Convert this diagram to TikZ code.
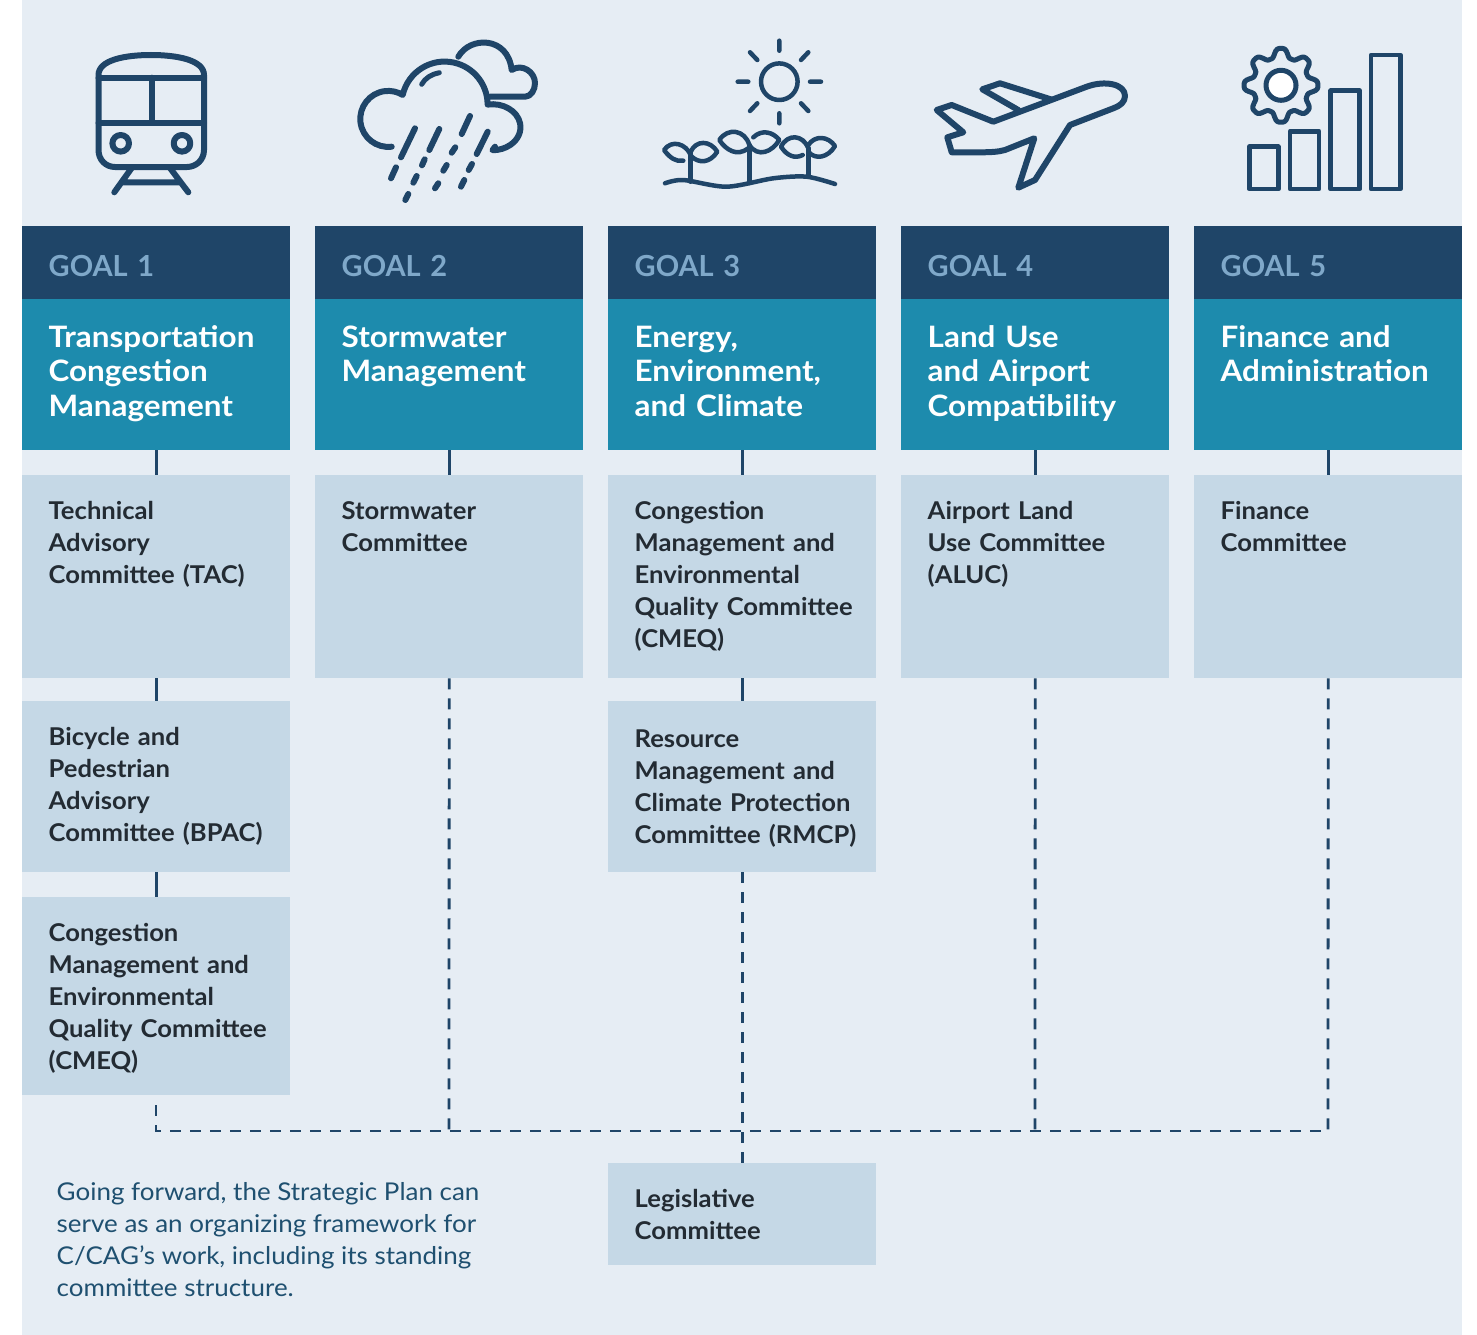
\documentclass[tikz,border=0pt]{standalone}
\usepackage{fontspec}
\setmainfont{Lato}
\newfontfamily\titlefont[FakeStretch=1.065]{Lato}
\newfontfamily\panelfont[FakeStretch=1.045]{Lato}
\newfontfamily\notefont[FakeStretch=1.06]{Lato}

\definecolor{pagebg}{HTML}{E6EDF4}
\definecolor{navy}{HTML}{1F4568}
\definecolor{teal}{HTML}{1D8BAD}
\definecolor{pale}{HTML}{C5D8E6}
\definecolor{goaltext}{HTML}{7FA8C9}
\definecolor{inktext}{HTML}{232B33}
\definecolor{notetext}{HTML}{1F5070}

\tikzset{
  boxbase/.style={anchor=north west, inner xsep=0pt, inner ysep=0pt, text width=268pt, align=left, execute at begin node={\leftskip=26.5pt}},
  goalbox/.style={boxbase, fill=navy, text=goaltext, text height=50pt, text depth=23pt, font=\fontsize{29}{34}\selectfont\bfseries},
  titlebox/.style={boxbase, fill=teal, text=white, text height=48pt, text depth=103pt, font=\titlefont\fontsize{29.5}{34.5}\selectfont\bfseries},
  panel/.style={boxbase, fill=pale, text=inktext, text height=44pt, text depth=#1pt-44pt, font=\panelfont\fontsize{24.5}{32}\selectfont\bfseries},
  link/.style={navy, line width=2.8pt},
  dashlink/.style={navy, line width=2.8pt, dash pattern=on 11pt off 9pt},
  icon/.style={navy, line width=6pt, line cap=round, line join=round},
  thinicon/.style={navy, line width=4.5pt, line cap=round, line join=round}
}

\begin{document}
\begin{tikzpicture}[x=1pt,y=1pt]

\useasboundingbox (0,0) rectangle (1477,-1335);
\fill[pagebg] (22,0) rectangle (1462,-1335);

% goal headers
\node[goalbox] (goalA) at (22,-226) {GOAL 1};
\node[goalbox] (goalB) at (315,-226) {GOAL 2};
\node[goalbox] (goalC) at (608,-226) {GOAL 3};
\node[goalbox] (goalD) at (901,-226) {GOAL 4};
\node[goalbox] (goalE) at (1194,-226) {GOAL 5};

\node[titlebox] (titleA) at (22,-299) {Transportation\\Congestion\\Management};
\node[titlebox] (titleB) at (315,-299) {Stormwater\\Management};
\node[titlebox] (titleC) at (608,-299) {Energy,\\Environment,\\and Climate};
\node[titlebox] (titleD) at (901,-299) {Land Use\\and Airport\\Compatibility};
\node[titlebox] (titleE) at (1194,-299) {Finance and\\Administration};

% committees
\node[panel=203] (tac) at (22,-475) {Technical\\Advisory\\Committee (TAC)};
\node[panel=171] (bpac) at (22,-701) {Bicycle and\\Pedestrian\\Advisory\\Committee (BPAC)};
\node[panel=198] (cmeqA) at (22,-897) {Congestion\\Management and\\Environmental\\Quality Committee\\(CMEQ)};
\node[panel=203] (storm) at (315,-475) {Stormwater\\Committee};
\node[panel=203] (cmeqC) at (608,-475) {Congestion\\Management and\\Environmental\\Quality Committee\\(CMEQ)};
\node[panel=171, text height=46pt, text depth=125pt] (rmcp) at (608,-701) {Resource\\Management and\\Climate Protection\\Committee (RMCP)};
\node[panel=102] (legis) at (608,-1163) {Legislative\\Committee};
\node[panel=203] (aluc) at (901,-475) {Airport Land\\Use Committee\\(ALUC)};
\node[panel=203] (fin) at (1194,-475) {Finance\\Committee};

\draw[link] (titleA.south) -- (tac.north);
\draw[link] (tac.south) -- (bpac.north);
\draw[link] (bpac.south) -- (cmeqA.north);
\draw[link] (titleB.south) -- (storm.north);
\draw[link] (titleC.south) -- (cmeqC.north);
\draw[link] (cmeqC.south) -- (rmcp.north);
\draw[link] (titleD.south) -- (aluc.north);
\draw[link] (titleE.south) -- (fin.north);

% dashed bus
\coordinate (busA) at (156,-1131);
\coordinate (busB) at (449,-1131);
\coordinate (busD) at (1035,-1131);
\coordinate (busE) at (1328,-1131);
\coordinate (stubA) at (156,-1105);

\draw[dashlink] (stubA) -- (busA) -- (busE);
\draw[dashlink] (storm.south) -- (busB);
\draw[dashlink] (rmcp.south) -- (legis.north);
\draw[dashlink] (aluc.south) -- (busD);
\draw[dashlink] (fin.south) -- (busE);

\node[anchor=base west, inner sep=0pt, align=left, text=notetext, font=\notefont\fontsize{24.5}{32}\selectfont] (note) at (56.5,-1296) {Going forward, the Strategic Plan can\\serve as an organizing framework for\\C/CAG’s work, including its standing\\committee structure.};

% train
\draw[icon] (98.5,-75) .. controls (98.5,-60) and (125,-55) .. (151,-55) .. controls (177,-55) and (204,-60) .. (204,-75) -- (204,-150) .. controls (204,-160) and (196,-167) .. (187,-167) -- (115,-167) .. controls (106,-167) and (98.5,-160) .. (98.5,-150) -- cycle;
\draw[icon] (98.5,-77.7) -- (204,-77.7) (98.5,-122.7) -- (204,-122.7) (151.7,-77.7) -- (151.7,-122.7);
\draw[icon] (120.7,-143.3) circle[radius=8.3pt] (182,-143.3) circle[radius=8.3pt];
\draw[icon] (131.7,-168) -- (114.3,-192.3) (170,-168) -- (188.3,-192.3) (123.3,-182.3) -- (180,-182.3);

% rain cloud
\draw[icon] (391.7,-146.7) arc[start angle=277, end angle=59, radius=28pt] arc[start angle=167, end angle=0, radius=43pt] arc[start angle=100, end angle=-90, x radius=28pt, y radius=23pt] -- (495,-146.7);
\draw[icon] (458.3,-56.7) .. controls (470,-36) and (508,-36) .. (511.7,-70) .. controls (522,-63) and (535,-72) .. (535,-83) .. controls (535,-90) and (531,-96.7) .. (525,-96.7) -- (490,-96.7);
\draw[thinicon, line width=5pt] (421.7,-84.3) .. controls (425,-78) and (432,-74) .. (439.3,-72.7);
\draw[icon] (415,-128.3) -- (401,-157.3) (439.3,-129) -- (429.3,-150) (470,-116) -- (461.7,-134) (487.7,-131.7) -- (476.7,-154)
  (396,-167.3) -- (391,-178.3) (424.7,-159.3) -- (422,-165.3) (455.3,-147.3) -- (451.7,-152.7) (446.7,-165) -- (443.3,-170.7)
  (472,-164) -- (468.7,-170) (416.7,-176) -- (413.3,-182.7) (438.3,-183.3) -- (435,-188.3) (464.3,-180) -- (461,-186.7)
  (408.3,-194) -- (405.3,-200);

% sun and sprouts
\draw[thinicon] (779.3,-81.7) circle[radius=18.3pt];
\draw[thinicon] (779.3,-40.7) -- (779.3,-50.7) (779.3,-113.3) -- (779.3,-123.3) (737.7,-81.7) -- (748.3,-81.7) (810,-81.7) -- (821,-81.7)
  (750,-52.3) -- (757.3,-60) (808.3,-52.3) -- (801,-60) (757.3,-103.3) -- (750,-111) (801,-103.3) -- (808.3,-111);
\draw[thinicon] plot[smooth] coordinates {(665,-183.3) (683.3,-180) (726.7,-186.7) (773.3,-178.3) (806.7,-176.7) (835,-184)};
\draw[thinicon] (690.7,-151.7) -- (690.7,-181.7) (749.3,-145) -- (749.3,-183) (808.3,-148) -- (808.3,-175);
\draw[thinicon] (690.7,-155) .. controls (686,-144) and (672,-139) .. (664,-150) .. controls (670,-158) and (676,-162) .. (683.3,-160.7);
\draw[thinicon] (690.7,-151.7) .. controls (696,-140) and (710,-140) .. (717.3,-151.7) .. controls (710,-163) and (699,-164) .. (691,-156);
\draw[thinicon] (749.3,-145) .. controls (745,-130) and (728,-127) .. (719.3,-140) .. controls (726,-150) and (737,-157) .. (748.3,-148.3);
\draw[thinicon] (753.3,-137.3) .. controls (762,-129) and (773,-132) .. (779.3,-140) .. controls (772,-152) and (758,-158) .. (749.3,-145);
\draw[thinicon] (808.3,-148) .. controls (803,-135) and (788,-133) .. (781,-146.7) .. controls (787,-156) and (795,-159) .. (802.7,-155);
\draw[thinicon] (808.3,-145) .. controls (815,-135) and (828,-136) .. (835,-146) .. controls (828,-158) and (815,-160) .. (808.3,-151.7);

% plane
\draw[icon] (993.3,-121.7) -- (1086.7,-86.7) .. controls (1105,-80) and (1125,-84) .. (1125,-96) .. controls (1125,-102) and (1120,-106) .. (1113.3,-108.3) -- (1070,-125) -- (1035,-180) -- (1018.3,-187.7) -- (1034.3,-138.3) -- (1005,-150) .. controls (998,-152) and (990,-152.3) .. (980,-152.3) -- (951.7,-152.3) -- (947.3,-137.3) -- (963.3,-132.3) -- (936.7,-110) -- (951.7,-105) -- cycle;
\draw[icon] (1018.3,-110) -- (982.3,-89.3) -- (1000,-83.3) -- (1050.7,-99.3);

% gear and bars
\draw[icon, line width=5pt] plot[smooth cycle, samples=128, domain=0:357.1875, variable=\t] ({1281+(32.5+5*(cos(8*\t)-0.12*cos(24*\t)))*cos(\t)},{-85.3+(32.5+5*(cos(8*\t)-0.12*cos(24*\t)))*sin(\t)});
\draw[icon, line width=5pt, fill=white] (1281,-85.3) circle[radius=15pt];
\draw[icon, line width=4.7pt] (1249.3,-146.7) rectangle (1278.3,-189) (1290,-131.3) rectangle (1319,-189) (1330.7,-90.7) rectangle (1359.7,-189) (1371,-55) rectangle (1400.3,-189);

\end{tikzpicture}
\end{document}
